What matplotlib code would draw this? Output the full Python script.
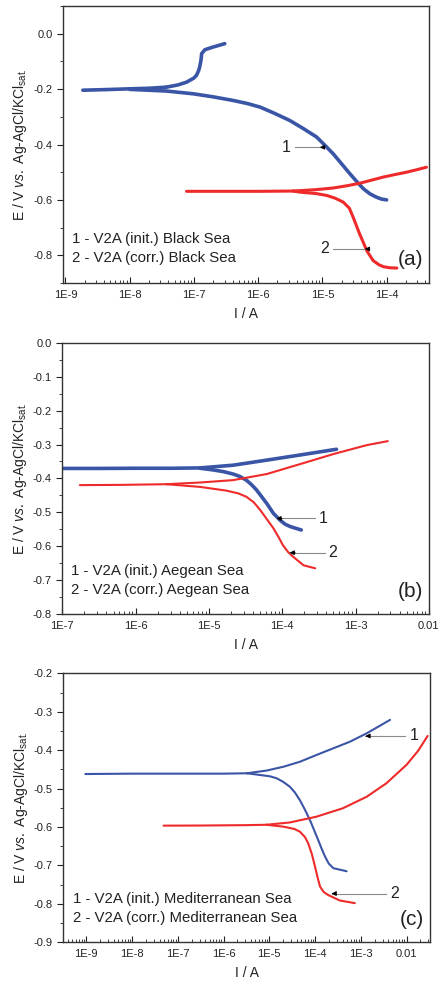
import numpy as np
import matplotlib
matplotlib.use('Agg')
import matplotlib.pyplot as plt
from matplotlib.ticker import MultipleLocator, LogLocator, NullFormatter, FormatStrFormatter

plt.rcParams['font.family'] = ['Liberation Sans', 'DejaVu Sans']
plt.rcParams['mathtext.fontset'] = 'custom'
plt.rcParams['mathtext.rm'] = 'Liberation Sans'
plt.rcParams['mathtext.it'] = 'Liberation Sans:italic'

BLUE = '#3a55a6'
RED = '#ee2a2a'
INK = '#222222'

# ---- panel (a) Black Sea: log10(I / A) and E / V
a1_flat_logI = [-8.73, -8.4, -8.0, -7.7, -7.43]
a1_flat_E = [-0.204, -0.202, -0.199, -0.197, -0.193]
a1_anod_logI = [-7.43, -7.25, -7.115, -7.0, -6.96, -6.93, -6.91, -6.89, -6.88, -6.83, -6.70, -6.52]
a1_anod_E = [-0.193, -0.185, -0.175, -0.16, -0.15, -0.135, -0.12, -0.095, -0.072, -0.058, -0.048, -0.036]
a1_cath_logI = [-8.0, -7.43, -7.01, -6.7, -6.39, -6.17, -5.97, -5.75, -5.51, -5.3, -5.09, -4.96, -4.83,
                -4.7, -4.57, -4.46, -4.36, -4.26, -4.16, -4.08, -4.0]
a1_cath_E = [-0.201, -0.207, -0.217, -0.228, -0.241, -0.252, -0.265, -0.287, -0.313, -0.342, -0.373, -0.403, -0.434,
             -0.47, -0.506, -0.535, -0.56, -0.578, -0.59, -0.597, -0.6]
a2_flat_logI = [-7.115, -6.5, -6.0, -5.45]
a2_flat_E = [-0.569, -0.569, -0.569, -0.568]
a2_anod_logI = [-5.45, -5.1, -4.83, -4.62, -4.42, -4.24, -4.06, -3.88, -3.69, -3.53, -3.38]
a2_anod_E = [-0.568, -0.563, -0.557, -0.549, -0.54, -0.529, -0.518, -0.509, -0.5, -0.491, -0.482]
a2_cath_logI = [-5.45, -5.35, -5.1, -4.93, -4.8, -4.675, -4.58, -4.52, -4.47, -4.42, -4.36, -4.31, -4.21, -4.12, -4.05, -3.95, -3.84]
a2_cath_E = [-0.568, -0.572, -0.577, -0.584, -0.594, -0.608, -0.63, -0.663, -0.693, -0.723, -0.755, -0.783, -0.819, -0.834, -0.841, -0.845, -0.846]

# ---- panel (b) Aegean Sea
b1_flat_logI = [-6.99, -6.5, -6.0, -5.5, -5.12]
b1_flat_E = [-0.3705, -0.3705, -0.370, -0.370, -0.369]
b1_anod_logI = [-5.12, -4.67, -4.21, -3.76, -3.26]
b1_anod_E = [-0.369, -0.361, -0.346, -0.331, -0.314]
b1_cath_logI = [-5.12, -4.94, -4.8, -4.67, -4.58, -4.49, -4.42, -4.35, -4.28, -4.21, -4.12, -4.03, -3.96, -3.89, -3.74]
b1_cath_E = [-0.370, -0.375, -0.38, -0.387, -0.394, -0.405, -0.418, -0.434, -0.454, -0.474, -0.503, -0.523, -0.535, -0.542, -0.552]
b2_flat_logI = [-6.76, -6.2, -5.58]
b2_flat_E = [-0.4197, -0.419, -0.417]
b2_anod_logI = [-5.58, -5.12, -4.67, -4.21, -3.76, -3.30, -2.85, -2.56]
b2_anod_E = [-0.417, -0.412, -0.405, -0.387, -0.358, -0.328, -0.302, -0.29]
b2_cath_logI = [-5.58, -5.12, -4.76, -4.6, -4.49, -4.39, -4.30, -4.21, -4.12, -4.05, -3.99, -3.92, -3.85, -3.71, -3.55]
b2_cath_E = [-0.417, -0.425, -0.436, -0.444, -0.454, -0.47, -0.493, -0.52, -0.547, -0.573, -0.597, -0.617, -0.631, -0.656, -0.665]

# ---- panel (c) Mediterranean Sea
c1_flat_logI = [-9.02, -8.0, -7.0, -6.0, -5.49]
c1_flat_E = [-0.462, -0.461, -0.461, -0.461, -0.460]
c1_anod_logI = [-5.49, -5.06, -4.69, -4.33, -3.97, -3.60, -3.24, -2.87, -2.36]
c1_anod_E = [-0.460, -0.453, -0.443, -0.43, -0.4125, -0.395, -0.378, -0.356, -0.321]
c1_cath_logI = [-5.49, -5.20, -4.98, -4.84, -4.7, -4.55, -4.44, -4.33, -4.22, -4.11, -4.02, -3.93, -3.85, -3.78, -3.70, -3.60, -3.31]
c1_cath_E = [-0.460, -0.4645, -0.468, -0.473, -0.482, -0.495, -0.51, -0.53, -0.555, -0.582, -0.608, -0.634, -0.658, -0.677, -0.695, -0.707, -0.715]
c2_flat_logI = [-7.31, -6.5, -5.5, -5.06]
c2_flat_E = [-0.5963, -0.596, -0.595, -0.594]
c2_anod_logI = [-5.06, -4.55, -3.97, -3.39, -2.87, -2.44, -2.0, -1.75, -1.54]
c2_anod_E = [-0.594, -0.588, -0.573, -0.551, -0.521, -0.486, -0.438, -0.402, -0.363]
c2_cath_logI = [-5.06, -4.69, -4.45, -4.33, -4.22, -4.15, -4.07, -4.0, -3.94, -3.89, -3.81, -3.71, -3.46, -3.13]
c2_cath_E = [-0.594, -0.599, -0.605, -0.612, -0.626, -0.642, -0.67, -0.703, -0.733, -0.755, -0.769, -0.777, -0.791, -0.798]

legend_a = ['1 - V2A (init.) Black Sea', '2 - V2A (corr.) Black Sea']
legend_b = ['1 - V2A (init.) Aegean Sea', '2 - V2A (corr.) Aegean Sea']
legend_c = ['1 - V2A (init.) Mediterranean Sea', '2 - V2A (corr.) Mediterranean Sea']

xt_a = [1e-9, 1e-8, 1e-7, 1e-6, 1e-5, 1e-4]
xtl_a = ['1E-9', '1E-8', '1E-7', '1E-6', '1E-5', '1E-4']
xt_b = [1e-7, 1e-6, 1e-5, 1e-4, 1e-3, 1e-2]
xtl_b = ['1E-7', '1E-6', '1E-5', '1E-4', '1E-3', '0.01']
xt_c = [1e-9, 1e-8, 1e-7, 1e-6, 1e-5, 1e-4, 1e-3, 1e-2]
xtl_c = ['1E-9', '1E-8', '1E-7', '1E-6', '1E-5', '1E-4', '1E-3', '0.01']


def curve(ax, flat, anod, cath, color, lw):
    for lx, e in (flat, anod, cath):
        ax.plot(10.0 ** np.array(lx), e, color=color, lw=lw,
                solid_capstyle='round', solid_joinstyle='round')


def arrow(ax, label, x_text, x_from, x_to, y):
    # thin grey shaft, small black head
    ax.plot([x_from, x_to], [y, y], color='#8a8a8a', lw=0.8)
    ax.annotate('', xy=(x_to, y), xytext=(x_to * 1.2, y),
                arrowprops=dict(arrowstyle='-|>', color='black', lw=0.6,
                                mutation_scale=7, shrinkA=0, shrinkB=0))
    ax.text(x_text, y, label, fontsize=11.5, color=INK, ha='center', va='center')


def setup(ax, xlim, ylim, xt, xtl, ymajor, yminor, legend, tag):
    ax.set_xscale('log')
    ax.set_xlim(*xlim)
    ax.set_ylim(*ylim)
    ax.set_xticks(xt, xtl)
    ax.xaxis.set_minor_locator(LogLocator(base=10, subs=np.arange(2, 10), numticks=20))
    ax.xaxis.set_minor_formatter(NullFormatter())
    ax.yaxis.set_major_locator(MultipleLocator(ymajor))
    ax.yaxis.set_minor_locator(MultipleLocator(yminor))
    ax.yaxis.set_major_formatter(FormatStrFormatter('%.1f'))
    ax.tick_params(axis='x', which='both', direction='in', labelsize=8, colors=INK, pad=5)
    ax.tick_params(axis='x', which='major', length=4)
    ax.tick_params(axis='x', which='minor', length=2.5)
    ax.tick_params(axis='y', which='both', direction='out', labelsize=8, colors=INK)
    ax.tick_params(axis='y', which='major', length=4)
    ax.tick_params(axis='y', which='minor', length=2.5)
    for s in ax.spines.values():
        s.set_linewidth(1.0)
        s.set_color('#333333')
    ax.set_xlabel('I / A', fontsize=10, color=INK, labelpad=5)
    ax.set_ylabel(r'E / V $\it{vs.}$ Ag-AgCl/KCl$_{\rm sat.}$', fontsize=10, color=INK, labelpad=3)
    ax.text(0.025, 0.16, legend[0], transform=ax.transAxes, fontsize=10.8, color=INK, va='center')
    ax.text(0.025, 0.09, legend[1], transform=ax.transAxes, fontsize=10.8, color=INK, va='center')
    ax.text(0.985, 0.085, tag, transform=ax.transAxes, fontsize=15, color=INK, ha='right', va='center')


fig = plt.figure(figsize=(4.4, 9.81), dpi=100)

ax_a = fig.add_axes([0.143, 0.7115, 0.832, 0.2824])
curve(ax_a, (a1_flat_logI, a1_flat_E), (a1_anod_logI, a1_anod_E), (a1_cath_logI, a1_cath_E), BLUE, 2.6)
curve(ax_a, (a2_flat_logI, a2_flat_E), (a2_anod_logI, a2_anod_E), (a2_cath_logI, a2_cath_E), RED, 2.2)
setup(ax_a, (10 ** -9.04, 10 ** -3.34), (-0.9, 0.1), xt_a, xtl_a, 0.2, 0.1, legend_a, '(a)')
arrow(ax_a, '1', 10 ** -5.57, 10 ** -5.43, 10 ** -5.04, -0.41)
arrow(ax_a, '2', 10 ** -4.96, 10 ** -4.83, 10 ** -4.34, -0.777)

ax_b = fig.add_axes([0.1416, 0.374, 0.833, 0.2766])
curve(ax_b, (b1_flat_logI, b1_flat_E), (b1_anod_logI, b1_anod_E), (b1_cath_logI, b1_cath_E), BLUE, 2.6)
curve(ax_b, (b2_flat_logI, b2_flat_E), (b2_anod_logI, b2_anod_E), (b2_cath_logI, b2_cath_E), RED, 1.5)
setup(ax_b, (1e-7, 1e-2), (-0.8, 0.0), xt_b, xtl_b, 0.1, 0.05, legend_b, '(b)')
arrow(ax_b, '1', 10 ** -3.44, 10 ** -3.55, 10 ** -4.08, -0.518)
arrow(ax_b, '2', 10 ** -3.31, 10 ** -3.42, 10 ** -3.90, -0.619)

ax_c = fig.add_axes([0.144, 0.0394, 0.833, 0.2742])
curve(ax_c, (c1_flat_logI, c1_flat_E), (c1_anod_logI, c1_anod_E), (c1_cath_logI, c1_cath_E), BLUE, 1.5)
curve(ax_c, (c2_flat_logI, c2_flat_E), (c2_anod_logI, c2_anod_E), (c2_cath_logI, c2_cath_E), RED, 1.5)
setup(ax_c, (10 ** -9.5, 10 ** -1.49), (-0.9, -0.2), xt_c, xtl_c, 0.1, 0.05, legend_c, '(c)')
arrow(ax_c, '1', 10 ** -1.83, 10 ** -2.03, 10 ** -2.90, -0.363)
arrow(ax_c, '2', 10 ** -2.25, 10 ** -2.45, 10 ** -3.64, -0.773)

fig.savefig('out.png', dpi=100)
